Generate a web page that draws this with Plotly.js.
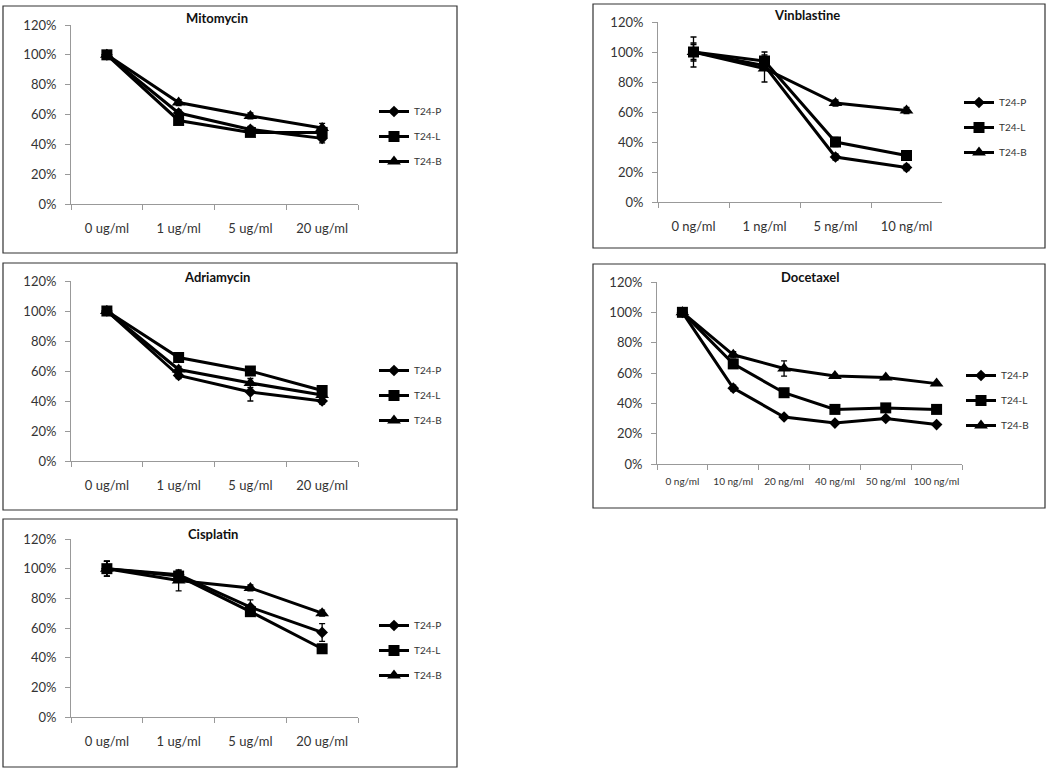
<!DOCTYPE html>
<html><head><meta charset="utf-8">
<script src="https://cdn.plot.ly/plotly-3.0.1.min.js"></script>
<style>html,body{margin:0;padding:0;background:#fff}#c{width:1050px;height:773px}</style>
</head><body><div id="c"></div>
<script>
// ---- data ----
const seriesNames = ['T24-P', 'T24-L', 'T24-B'];

const mitoCats = ['0 ug/ml', '1 ug/ml', '5 ug/ml', '20 ug/ml'];
const mitoP = [1.00, 0.61, 0.50, 0.44];
const mitoL = [1.00, 0.56, 0.48, 0.48];
const mitoB = [1.00, 0.68, 0.59, 0.51];
const mitoErrP = [0.02, 0.02, 0.02, 0.03];
const mitoErrL = [0.02, 0.02, 0.02, 0.03];
const mitoErrB = [0.02, 0.02, 0.02, 0.03];

const vinCats = ['0 ng/ml', '1 ng/ml', '5 ng/ml', '10 ng/ml'];
const vinP = [1.00, 0.91, 0.30, 0.23];
const vinL = [1.00, 0.94, 0.40, 0.31];
const vinB = [1.00, 0.89, 0.66, 0.61];
const vinErrP = [0.05, 0.03, 0.02, 0.02];
const vinErrL = [0.10, 0.06, 0.03, 0.02];
const vinErrB = [0.06, 0.09, 0.02, 0.02];

const adriaCats = ['0 ug/ml', '1 ug/ml', '5 ug/ml', '20 ug/ml'];
const adriaP = [1.00, 0.57, 0.46, 0.40];
const adriaL = [1.00, 0.69, 0.60, 0.47];
const adriaB = [1.00, 0.61, 0.52, 0.44];
const adriaErrP = [0.02, 0.02, 0.06, 0.02];
const adriaErrL = [0.02, 0.03, 0.02, 0.02];
const adriaErrB = [0.02, 0.02, 0.03, 0.02];

const doceCats = ['0 ng/ml', '10 ng/ml', '20 ng/ml', '40 ng/ml', '50 ng/ml', '100 ng/ml'];
const doceP = [1.00, 0.50, 0.31, 0.27, 0.30, 0.26];
const doceL = [1.00, 0.66, 0.47, 0.36, 0.37, 0.36];
const doceB = [1.00, 0.72, 0.63, 0.58, 0.57, 0.53];
const doceErrP = [0.01, 0.02, 0.01, 0.01, 0.01, 0.01];
const doceErrL = [0.01, 0.02, 0.02, 0.01, 0.01, 0.01];
const doceErrB = [0.01, 0.02, 0.05, 0.01, 0.01, 0.01];

const cisCats = ['0 ug/ml', '1 ug/ml', '5 ug/ml', '20 ug/ml'];
const cisP = [1.00, 0.96, 0.74, 0.57];
const cisL = [1.00, 0.95, 0.71, 0.46];
const cisB = [1.00, 0.92, 0.87, 0.70];
const cisErrP = [0.05, 0.03, 0.05, 0.06];
const cisErrL = [0.05, 0.03, 0.02, 0.03];
const cisErrB = [0.05, 0.07, 0.02, 0.02];

// ---- layout helpers (pixel geometry) ----
const W = 1050, H = 773;
const px = v => v / W, py = v => 1 - v / H;

const panels = [
  {title: 'Mitomycin',   cats: mitoCats,  vals: [mitoP, mitoL, mitoB],   errs: [mitoErrP, mitoErrL, mitoErrB],
   plot: [71, 358, 25, 204],  box: [3, 457, 6, 253],   tpos: [217, 18], leg: [374, 97]},
  {title: 'Vinblastine', cats: vinCats,   vals: [vinP, vinL, vinB],      errs: [vinErrP, vinErrL, vinErrB],
   plot: [658, 942, 22, 202], box: [593, 1045, 4, 248], tpos: [807, 15], leg: [959, 88]},
  {title: 'Adriamycin',  cats: adriaCats, vals: [adriaP, adriaL, adriaB], errs: [adriaErrP, adriaErrL, adriaErrB],
   plot: [71, 358, 281, 461], box: [3, 457, 263, 510], tpos: [217, 277], leg: [374, 356]},
  {title: 'Docetaxel',   cats: doceCats,  vals: [doceP, doceL, doceB],   errs: [doceErrP, doceErrL, doceErrB],
   plot: [657, 962, 282, 464], box: [593, 1045, 264, 508], tpos: [810, 277], leg: [961, 361]},
  {title: 'Cisplatin',   cats: cisCats,   vals: [cisP, cisL, cisB],      errs: [cisErrP, cisErrL, cisErrB],
   plot: [71, 358, 539, 717], box: [3, 457, 519, 767], tpos: [213, 534], leg: [374, 611]}
];

const markers = [
  {symbol: 'diamond', size: 9},
  {symbol: 'square', size: 11},
  {symbol: 'triangle-up', size: 12}
];

const data = [];
const layout = {
  width: W, height: H,
  margin: {l: 0, r: 0, t: 0, b: 0},
  paper_bgcolor: '#fff', plot_bgcolor: '#fff',
  font: {family: 'Lato, "Open Sans", sans-serif', color: '#333'},
  showlegend: true,
  shapes: [], annotations: []
};

panels.forEach((p, i) => {
  const n = i + 1;
  const xa = n === 1 ? 'x' : 'x' + n, ya = n === 1 ? 'y' : 'y' + n;
  const xk = n === 1 ? 'xaxis' : 'xaxis' + n, yk = n === 1 ? 'yaxis' : 'yaxis' + n;
  const lk = n === 1 ? 'legend' : 'legend' + n;
  p.vals.forEach((v, s) => {
    data.push({
      type: 'scatter', mode: 'lines+markers',
      x: p.cats, y: v, name: seriesNames[s],
      xaxis: xa, yaxis: ya, legend: lk, legendgroup: 'g' + n + '_' + s,
      line: {color: '#000', width: 3},
      marker: {color: '#000', symbol: markers[s].symbol, size: markers[s].size},
      error_y: {type: 'data', array: p.errs[s], visible: true, color: '#000', thickness: 1.3, width: 3},
      hoverinfo: 'x+y'
    });
  });
  const many = p.cats.length > 4;
  layout[xk] = {
    domain: [px(p.plot[0]), px(p.plot[1])], anchor: ya,
    type: 'category', range: [-0.5, p.cats.length - 0.5],
    tickson: 'boundaries', ticks: 'outside', ticklen: 5, tickcolor: '#999',
    showline: true, linecolor: '#999', linewidth: 1, showgrid: false, zeroline: false,
    tickangle: 0, ticklabelstandoff: many ? 8 : 12,
    tickfont: {size: many ? 10 : 13, color: '#333'}, fixedrange: true
  };
  layout[yk] = {
    domain: [py(p.plot[3]), py(p.plot[2])], anchor: xa,
    range: [0, 1.2], dtick: 0.2, tickformat: '.0%',
    ticks: 'outside', ticklen: 5, tickcolor: '#999', ticklabelstandoff: 6,
    showline: true, linecolor: '#999', linewidth: 1, showgrid: false, zeroline: false,
    tickfont: {size: 13, color: '#333'}, fixedrange: true
  };
  layout[lk] = {
    x: px(p.leg[0]), y: py(p.leg[1]), xanchor: 'left', yanchor: 'top',
    bgcolor: 'rgba(0,0,0,0)', borderwidth: 0, font: {size: 10, color: '#333'},
    tracegroupgap: 6, itemwidth: 30
  };
  layout.shapes.push({
    type: 'rect', xref: 'paper', yref: 'paper',
    x0: px(p.box[0]), x1: px(p.box[1]), y0: py(p.box[3]), y1: py(p.box[2]),
    line: {color: '#333', width: 1.2}, fillcolor: 'rgba(0,0,0,0)'
  });
  layout.annotations.push({
    text: '<b>' + p.title + '</b>', xref: 'paper', yref: 'paper',
    x: px(p.tpos[0]), y: py(p.tpos[1]), xanchor: 'center', yanchor: 'middle',
    showarrow: false, font: {size: 13, color: '#111'}
  });
});

Plotly.newPlot('c', data, layout, {displayModeBar: false, staticPlot: true});
</script></body></html>
